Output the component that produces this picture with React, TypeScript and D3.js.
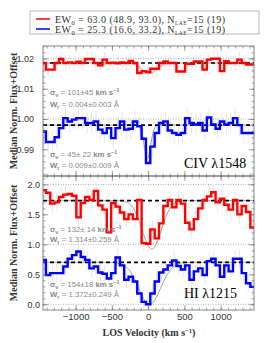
import { useEffect, useRef } from "react"
import * as d3 from "d3"

// velocity bin centres (km/s), 60 km/s bins
const velocityBins = d3.range(-1440, 1441, 60)

const civRedFlux = [
  1.0185, 1.0163, 1.0163, 1.0185, 1.0198, 1.0185, 1.0187, 1.0185, 1.0189, 1.0185,
  1.0198, 1.0198, 1.0185, 1.0177, 1.0196, 1.0185, 1.0186, 1.0184, 1.0187, 1.0185,
  1.0192, 1.0185, 1.0152, 1.0158, 1.0155, 1.0166, 1.0166, 1.0185, 1.019, 1.0185,
  1.0185, 1.0157, 1.0157, 1.0182, 1.0182, 1.019, 1.019, 1.0163, 1.0196, 1.0199,
  1.0199, 1.0158, 1.0191, 1.0185, 1.0185, 1.0196, 1.0185, 1.018, 1.018,
]
const civBlueFlux = [
  0.9959, 0.9924, 0.9924, 0.994, 0.997, 1.0003, 0.9992, 0.9998, 1.0003, 1.0003,
  0.9987, 0.9987, 0.9992, 0.9965, 0.9954, 0.997, 0.9937, 0.997, 0.9992, 0.9965,
  0.9968, 0.9992, 0.9976, 0.9935, 0.9855, 0.9909, 0.9954, 0.9987, 0.9992, 0.9962,
  0.9954, 0.9948, 0.9954, 1.0003, 0.9987, 0.9982, 0.9987, 0.9962, 1.0005, 0.9982,
  0.9968, 0.9992, 0.9982, 0.9987, 1.0003, 0.998, 0.9954, 0.9954, 0.9954,
]
const hiRedFlux = [
  1.905, 1.86, 1.68, 1.7, 1.79, 1.83, 1.84, 1.81, 1.45, 1.69,
  1.79, 1.74, 1.89, 1.65, 1.58, 1.2, 1.69, 1.63, 1.53, 1.42,
  1.5, 1.42, 1.74, 1.02, 1.01, 1.25, 1.1, 1.35, 1.64, 1.74,
  1.62, 1.74, 1.68, 1.36, 1.25, 1.42, 1.6, 1.74, 1.8, 1.87,
  1.7, 1.76, 1.66, 1.58, 1.74, 1.5, 1.64, 1.54, 1.28,
]
const hiBlueFlux = [
  0.74, 0.49, 0.52, 0.52, 0.52, 0.63, 0.76, 0.82, 0.88, 0.79,
  0.74, 0.6, 0.63, 0.53, 0.51, 0.43, 0.52, 0.78, 0.65, 0.41,
  0.46, 0.38, 0.18, 0.04, 0.0, 0.18, 0.38, 0.53, 0.58, 0.65,
  0.73, 0.64, 0.58, 0.65, 0.41, 0.55, 0.6, 0.49, 0.72, 0.76,
  0.65, 0.46, 0.65, 0.55, 0.76, 0.76, 0.52, 0.35, 0.29,
]

// typical 1-sigma error per bin
const civErrors = [0.0025, 0.0035]
const hiErrors = [0.15, 0.15]

// continuum levels (red, blue)
const civContinuum = [1.0185, 0.998]
const hiContinuum = [1.73, 0.7]

// gaussian fits: [centre, sigma, depth] for red, blue
const civFits = [[20, 101, 0.0035], [-10, 45, 0.011]]
const hiFits = [[50, 132, 0.81], [20, 154, 0.7]]

const civRefLines = [1.0, 1.02]
const hiRefLines = [0, 1, 2]
const civTicks = [0.99, 1.0, 1.01, 1.02]
const hiTicks = [0, 0.5, 1, 1.5, 2]
const velocityTicks = [-1000, -500, 0, 500, 1000]

const legendEW = ["63.0 (48.9, 93.0)", "25.3 (16.6, 33.2)"]
const legendN = ["15 (19)", "15 (19)"]
const civSigma = ["101±45", "45± 22"]
const civWr = ["0.004±0.003", "0.009±0.009"]
const hiSigma = ["132± 14", "154±18"]
const hiWr = ["1.314±0.259", "1.372±0.249"]

const colors = ["#ff0000", "#0000ff"]

export default function App() {
  const svgRef = useRef<SVGSVGElement>(null)

  useEffect(() => {
    if (!svgRef.current) return
    const svg = d3.select(svgRef.current)
    svg.selectAll("*").remove()

    const left = 43
    const right = 254
    const x = d3.scaleLinear().domain([-1450, 1460]).range([left, right])

    const panels = [
      {
        top: 46, bottom: 176, domain: [0.9812, 1.0241],
        series: [civRedFlux, civBlueFlux], errors: civErrors, cont: civContinuum,
        fits: civFits, refs: civRefLines, ticks: civTicks,
        minor: d3.range(491, 513).map((i) => i * 0.002), fmt: d3.format(".2f"), pad: 9,
        sigma: civSigma, wr: civWr, annY: [95, 107, 157, 168], name: "CIV", wave: "1548", xLabels: false,
      },
      {
        top: 176, bottom: 310, domain: [-0.095, 2.14],
        series: [hiRedFlux, hiBlueFlux], errors: hiErrors, cont: hiContinuum,
        fits: hiFits, refs: hiRefLines, ticks: hiTicks,
        minor: d3.range(0, 22).map((i) => i * 0.1), fmt: d3.format(".1f"), pad: 3,
        sigma: hiSigma, wr: hiWr, annY: [232, 242, 287, 297], name: "HI", wave: "1215", xLabels: true,
      },
    ]

    const defs = svg.append("defs")

    panels.forEach((p, pi) => {
      const y = d3.scaleLinear().domain(p.domain).range([p.bottom, p.top])
      const g = svg.append("g")

      defs.append("clipPath").attr("id", `clip${pi}`)
        .append("rect").attr("x", left).attr("y", p.top)
        .attr("width", right - left).attr("height", p.bottom - p.top)
      const plot = g.append("g").attr("clip-path", `url(#clip${pi})`)

      // dotted reference lines
      plot.selectAll(".ref").data(p.refs).enter().append("line")
        .attr("x1", left).attr("x2", right)
        .attr("y1", (d) => y(d)).attr("y2", (d) => y(d))
        .attr("stroke", "#888").attr("stroke-width", 0.7).attr("stroke-dasharray", "1,1.5")

      // error bars
      p.series.forEach((s, si) => {
        plot.append("g").selectAll("line").data(s).enter().append("line")
          .attr("x1", (_, i) => x(velocityBins[i])).attr("x2", (_, i) => x(velocityBins[i]))
          .attr("y1", (d) => y(d - p.errors[si])).attr("y2", (d) => y(d + p.errors[si]))
          .attr("stroke", "#e2e2e2").attr("stroke-width", 0.8)
      })

      // gaussian fits
      const vs = d3.range(-1450, 1461, 10)
      p.fits.forEach((f, si) => {
        const [c, s, depth] = f
        const line = d3.line<number>()
          .x((v) => x(v))
          .y((v) => y(p.cont[si] - depth * Math.exp(-((v - c) ** 2) / (2 * s * s))))
        plot.append("path").attr("d", line(vs)).attr("fill", "none")
          .attr("stroke", "#888").attr("stroke-width", 0.8)
      })

      // continuum dashed lines
      plot.selectAll(".cont").data(p.cont).enter().append("line")
        .attr("x1", left).attr("x2", right)
        .attr("y1", (d) => y(d)).attr("y2", (d) => y(d))
        .attr("stroke", "#000").attr("stroke-width", 1.6).attr("stroke-dasharray", "4,3")

      // step spectra
      p.series.forEach((s, si) => {
        const pts: [number, number][] = s.map((f, i) => [velocityBins[i] - 30, f])
        pts.push([velocityBins[s.length - 1] + 30, s[s.length - 1]])
        const line = d3.line<[number, number]>()
          .x((d) => x(d[0])).y((d) => y(d[1])).curve(d3.curveStepAfter)
        plot.append("path").attr("d", line(pts)).attr("fill", "none")
          .attr("stroke", colors[si]).attr("stroke-width", 2.4).attr("stroke-linejoin", "miter")
      })

      // axes
      const axisG = g.append("g").attr("color", "#666")
      axisG.append("g").attr("transform", `translate(${left},0)`)
        .call(d3.axisLeft(y).tickValues(p.ticks).tickSize(-5).tickPadding(p.pad).tickFormat((d) => p.fmt(d as number)))
        .call((a) => a.selectAll("text").attr("fill", "#333").attr("font-size", 9).attr("font-family", "Liberation Sans"))
      axisG.append("g").attr("transform", `translate(${left},0)`)
        .call(d3.axisLeft(y).tickValues(p.minor).tickSize(-2.5).tickFormat(() => ""))
      axisG.append("g").attr("transform", `translate(${right},0)`)
        .call(d3.axisRight(y).tickValues(p.ticks).tickSize(-5).tickFormat(() => ""))
      axisG.append("g").attr("transform", `translate(${right},0)`)
        .call(d3.axisRight(y).tickValues(p.minor).tickSize(-2.5).tickFormat(() => ""))

      const xMinor = d3.range(-14, 15).map((i) => i * 100)
      axisG.append("g").attr("transform", `translate(0,${p.bottom})`)
        .call(d3.axisBottom(x).tickValues(velocityTicks).tickSize(-5).tickPadding(3)
          .tickFormat((d) => (p.xLabels ? d3.format("")(d as number).replace("-", "−") : "")))
        .call((a) => a.selectAll("text").attr("fill", "#333").attr("font-size", 9.5).attr("font-family", "Liberation Sans"))
      axisG.append("g").attr("transform", `translate(0,${p.bottom})`)
        .call(d3.axisBottom(x).tickValues(xMinor).tickSize(-2.5).tickFormat(() => ""))
      axisG.append("g").attr("transform", `translate(0,${p.top})`)
        .call(d3.axisTop(x).tickValues(velocityTicks).tickSize(-5).tickFormat(() => ""))
      axisG.append("g").attr("transform", `translate(0,${p.top})`)
        .call(d3.axisTop(x).tickValues(xMinor).tickSize(-2.5).tickFormat(() => ""))
      axisG.selectAll(".domain").remove()
      axisG.selectAll(".tick line").attr("stroke-width", 0.6)

      g.append("rect").attr("x", left).attr("y", p.top)
        .attr("width", right - left).attr("height", p.bottom - p.top)
        .attr("fill", "none").attr("stroke", "#666").attr("stroke-width", 0.8)

      // annotations
      p.series.forEach((_, si) => {
        const t1 = g.append("text").attr("x", 50).attr("y", p.annY[si * 2])
          .attr("font-family", "Liberation Sans").attr("font-size", 7.8).attr("fill", "#888")
        t1.append("tspan").attr("font-weight", "bold").text("σ")
        t1.append("tspan").attr("font-size", 5.5).attr("dy", 1.5).attr("font-weight", "bold").text("v")
        t1.append("tspan").attr("dy", -1.5).text(` = ${p.sigma[si]} `)
        t1.append("tspan").attr("font-weight", "bold").text("km s")
        t1.append("tspan").attr("font-size", 5.5).attr("dy", -3).attr("font-weight", "bold").text("−1")

        const t2 = g.append("text").attr("x", 50).attr("y", p.annY[si * 2 + 1])
          .attr("font-family", "Liberation Sans").attr("font-size", 7.8).attr("fill", "#888")
        t2.append("tspan").attr("font-weight", "bold").text("W")
        t2.append("tspan").attr("font-size", 5.5).attr("dy", 1.5).attr("font-weight", "bold").text("r")
        t2.append("tspan").attr("dy", -1.5).text(` = ${p.wr[si]} Å`)
      })

      g.append("text").attr("x", 184).attr("y", pi === 0 ? 168 : 298)
        .attr("font-family", "Liberation Serif").attr("font-size", 14).attr("fill", "#000")
        .text(`${p.name} λ${p.wave}`)

      // y title
      g.append("text")
        .attr("transform", `translate(13,${(p.top + p.bottom) / 2}) rotate(-90)`)
        .attr("text-anchor", "middle").attr("dominant-baseline", "central")
        .attr("font-family", "Liberation Serif").attr("font-weight", "bold").attr("font-size", 10)
        .attr("fill", "#333")
        .text("Median Norm. Flux+Offset")
    })

    // x title
    const xt = svg.append("text").attr("x", 149).attr("y", 336).attr("text-anchor", "middle")
      .attr("font-family", "Liberation Serif").attr("font-weight", "bold").attr("font-size", 10).attr("fill", "#333")
    xt.append("tspan").text("LOS Velocity (km s")
    xt.append("tspan").attr("font-size", 6.5).attr("dy", -3.5).text("−1")
    xt.append("tspan").attr("dy", 3.5).text(")")

    // legend
    const lg = svg.append("g")
    lg.append("rect").attr("x", 30).attr("y", 11).attr("width", 229).attr("height", 23)
      .attr("fill", "#fff").attr("stroke", "#aaa").attr("stroke-width", 0.8)
    legendEW.forEach((ew, i) => {
      const ly = 19 + i * 10
      lg.append("line").attr("x1", 36).attr("x2", 50).attr("y1", ly).attr("y2", ly)
        .attr("stroke", colors[i]).attr("stroke-width", 1.5)
      const t = lg.append("text").attr("x", 55).attr("y", ly + 3.5)
        .attr("font-family", "Liberation Serif").attr("font-size", 10).attr("letter-spacing", 0.45)
        .attr("fill", "#333")
      t.append("tspan").text("EW")
      t.append("tspan").attr("font-size", 6.5).attr("dy", 2).text("0")
      t.append("tspan").attr("dy", -2).text(` = ${ew}, N`)
      t.append("tspan").attr("font-size", 5.5).attr("dy", 2).text("LAE")
      t.append("tspan").attr("dy", -2).text(`=${legendN[i]}`)
    })
  }, [])

  return (
    <svg
      ref={svgRef}
      width={264}
      height={343}
      style={{ position: "absolute", left: 0, top: 0, background: "#fff" }}
    />
  )
}
